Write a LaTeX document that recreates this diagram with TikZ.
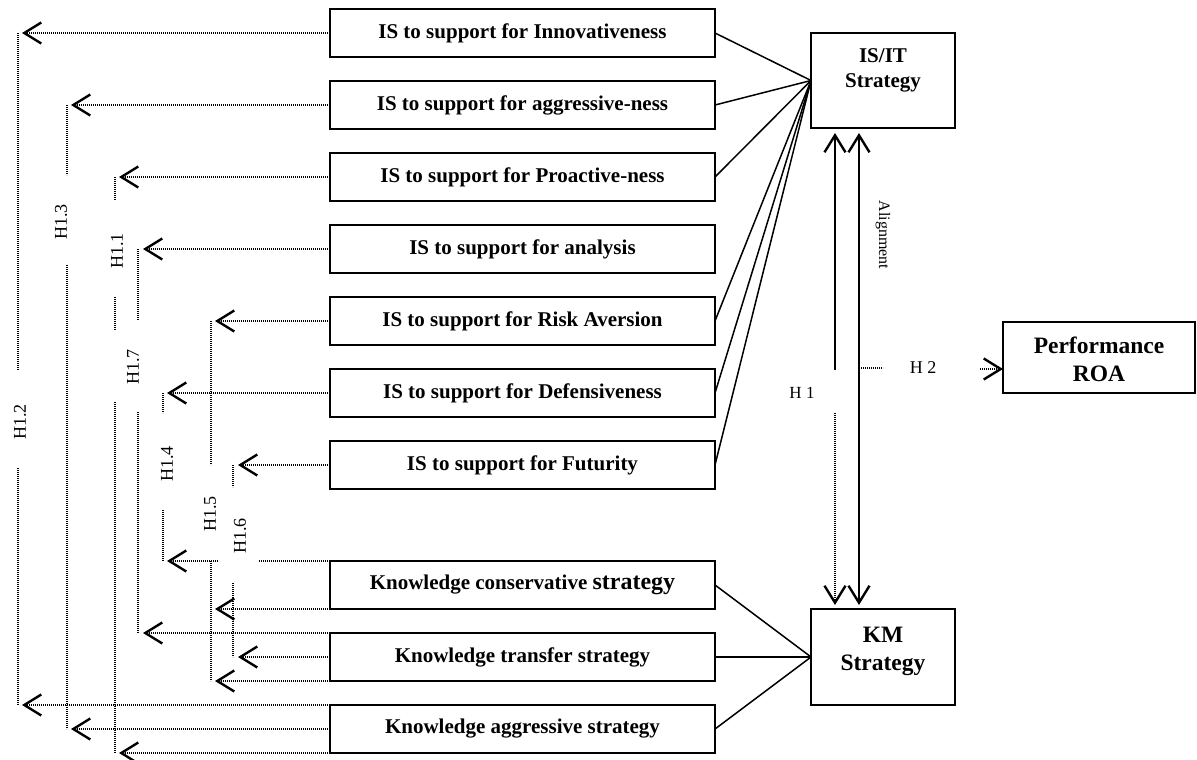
\documentclass[tikz,border=0pt]{standalone}
\usepackage{fontspec}
\setmainfont{Liberation Serif}
\usetikzlibrary{arrows.meta}
\begin{document}
\begin{tikzpicture}[x=1pt,y=-1pt,
  bx/.style={draw, line width=2.2pt, inner sep=0pt, outer sep=0pt},
  isbox/.style={bx, minimum width=385pt, minimum height=48pt, font=\fontsize{21}{24}\selectfont\bfseries},
  bigtext/.style={align=center, inner sep=0pt},
  dl/.style={line width=2pt, dash pattern=on 1.3pt off 0.7pt},
  cl/.style={line width=1.5pt},
  chev/.tip={Straight Barb[length=17pt,width=21pt,line width=2.4pt]},
  hl/.style={font=\fontsize{18}{20}\selectfont, inner sep=0pt, rotate=90},
]
\useasboundingbox (0,0) rectangle (1197,760);

% left column boxes
\node[isbox] (inno) at (522.5,33)  {IS to support for Innovativeness};
\node[isbox] (aggr) at (522.5,105) {IS to support for aggressive-ness};
\node[isbox] (proa) at (522.5,177) {IS to support for Proactive-ness};
\node[isbox] (anal) at (522.5,249) {IS to support for analysis};
\node[isbox] (risk) at (522.5,321) {IS to support for Risk Aversion};
\node[isbox] (defe) at (522.5,393) {IS to support for Defensiveness};
\node[isbox] (futu) at (522.5,465) {IS to support for Futurity};
\node[isbox] (kcon) at (522.5,585) {Knowledge conservative {\fontsize{24}{26}\selectfont strategy}};
\node[isbox] (ktra) at (522.5,657) {Knowledge transfer strategy};
\node[isbox] (kagg) at (522.5,729) {Knowledge aggressive strategy};

% right boxes
\node[bx, minimum width=144pt, minimum height=95pt] (isit) at (883,80.5) {};
\node[bigtext, font=\fontsize{21}{25}\selectfont\bfseries] at (883,70) {IS/IT\\Strategy};
\node[bx, minimum width=144pt, minimum height=96pt] (km) at (883,657) {};
\node[bigtext, font=\fontsize{23.5}{28}\selectfont\bfseries] at (883,651) {KM\\Strategy};
\node[bx, minimum width=192pt, minimum height=71pt] (perf) at (1099,357.5) {};
\node[bigtext, font=\fontsize{23.5}{28}\selectfont\bfseries] at (1099,359.5) {Performance\\ROA};

% solid connectors
\foreach \n in {inno,aggr,proa,risk,defe,futu} \draw[cl] (\n.east) -- (isit.west);
\foreach \n in {kcon,ktra,kagg} \draw[cl] (\n.east) -- (km.west);

% tip x positions
\coordinate (t12) at (22,0);
\coordinate (t13) at (71,0);
\coordinate (t11) at (119,0);
\coordinate (t17) at (143,0);
\coordinate (t14) at (167,0);
\coordinate (t15) at (215,0);
\coordinate (t16) at (238,0);

% horizontal dotted arrows
\draw[dl,-chev] (inno.west) -- (inno.west -| t12);
\draw[dl,-chev] (aggr.west) -- (aggr.west -| t13);
\draw[dl,-chev] (proa.west) -- (proa.west -| t11);
\draw[dl,-chev] (anal.west) -- (anal.west -| t17);
\draw[dl,-chev] (risk.west) -- (risk.west -| t15);
\draw[dl,-chev] (defe.west) -- (defe.west -| t14);
\draw[dl,-chev] (futu.west) -- (futu.west -| t16);
\coordinate (g1) at (259,0);
\coordinate (g2) at (218,0);
\draw[dl] (kcon.north west) -- (kcon.north west -| g1);
\draw[dl,-chev] (kcon.north west -| g2) -- (kcon.north west -| t14);
\draw[dl,-chev] (kcon.south west) -- (kcon.south west -| t15);
\draw[dl,-chev] (ktra.north west) -- (ktra.north west -| t17);
\draw[dl,-chev] (ktra.west) -- (ktra.west -| t16);
\draw[dl,-chev] (ktra.south west) -- (ktra.south west -| t15);
\draw[dl,-chev] (kagg.north west) -- (kagg.north west -| t12);
\draw[dl,-chev] (kagg.west) -- (kagg.west -| t13);
\draw[dl,-chev] (kagg.south west) -- (kagg.south west -| t11);

% vertical dotted segments
\draw[dl] (18,33) -- (18,370);   \draw[dl] (18,468) -- (18,705);
\draw[dl] (67,105) -- (67,175);  \draw[dl] (67,265) -- (67,729);
\draw[dl] (115,177) -- (115,200); \draw[dl] (115,297) -- (115,330); \draw[dl] (115,402) -- (115,753);
\draw[dl] (138,249) -- (138,320); \draw[dl] (138,412) -- (138,633);
\draw[dl] (163,393) -- (163,413); \draw[dl] (163,510) -- (163,561);
\draw[dl] (211,321) -- (211,465); \draw[dl] (211,561) -- (211,681);
\draw[dl] (233,465) -- (233,487); \draw[dl] (233,583) -- (233,657);

% H1.x labels
\node[hl] (h12) at (20,422)  {H1.2};
\node[hl] (h13) at (61,222)  {H1.3};
\node[hl] (h11) at (117,251) {H1.1};
\node[hl] (h17) at (133,367) {H1.7};
\node[hl] (h14) at (167,464) {H1.4};
\node[hl] (h15) at (210,514) {H1.5};
\node[hl] (h16) at (240,536) {H1.6};

% alignment arrows
\coordinate (a1t) at (835,133);
\coordinate (a1m) at (835,370);
\coordinate (a1n) at (835,413);
\coordinate (a1b) at (835,605);
\draw[dl,chev-] (a1t) -- (a1m);
\draw[dl,-chev] (a1n) -- (a1b);
\coordinate (a2t) at (859,133);
\coordinate (a2b) at (859,605);
\draw[dl,chev-chev] (a2t) -- (a2b);
\node[font=\fontsize{17}{19}\selectfont, inner sep=0pt] (h1) at (802,393) {H 1};
\node[font=\fontsize{16}{18}\selectfont, inner sep=0pt, rotate=-90] (al) at (883,235) {Alignment};

% H2
\coordinate (h2a) at (859,368);
\coordinate (h2b) at (883,368);
\coordinate (h2c) at (980,369);
\draw[dl] (h2a) -- (h2b);
\node[font=\fontsize{18}{20}\selectfont, inner sep=0pt] (h2) at (923,368) {H 2};
\draw[dl,-chev] (h2c) -- (h2c -| perf.west) ;
\end{tikzpicture}
\end{document}
